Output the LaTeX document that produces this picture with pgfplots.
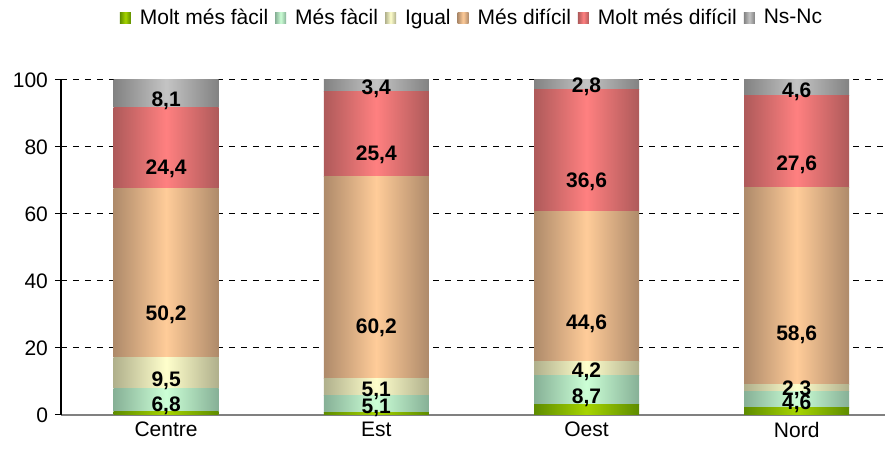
\documentclass[border=0pt]{standalone}
\usepackage{fontspec}
\setmainfont{Liberation Sans}
\usepackage{pgfplots}
\usepackage{pgfplotstable}
\pgfplotsset{compat=1.18}

% dark edge / light middle of each cylinder-like bar
\definecolor{mfD}{HTML}{5E8C00}\definecolor{mfL}{HTML}{A6D400}
\definecolor{fD}{HTML}{86B096}\definecolor{fL}{HTML}{CCFFD6}
\definecolor{iD}{HTML}{B0B08C}\definecolor{iL}{HTML}{FFFFCC}
\definecolor{dD}{HTML}{AE8A6A}\definecolor{dL}{HTML}{FFCC99}
\definecolor{mdD}{HTML}{AE5A5A}\definecolor{mdL}{HTML}{FF8080}
\definecolor{nD}{HTML}{828282}\definecolor{nL}{HTML}{C4C4C4}

% one table per district (one bar each, so each bar gets its own shading)
\pgfplotstableread{
x mfacil facil igual dificil mdificil nsnc
0 1.0 6.8 9.5 50.2 24.4 8.1
}\centre
\pgfplotstableread{
x mfacil facil igual dificil mdificil nsnc
1 0.8 5.1 5.1 60.2 25.4 3.4
}\est
\pgfplotstableread{
x mfacil facil igual dificil mdificil nsnc
2 3.1 8.7 4.2 44.6 36.6 2.8
}\oest
\pgfplotstableread{
x mfacil facil igual dificil mdificil nsnc
3 2.3 4.6 2.3 58.6 27.6 4.6
}\nord

\pgfplotsset{
  cyl/.style 2 args={draw=none, left color=#1, right color=#1, middle color=#2},
  lbl/.style={
    visualization depends on=rawy \as \rawy,
    nodes near coords={\pgfmathprintnumber{\rawy}},
    every node near coord/.append style={anchor=center, yshift={-0.41875*\rawy},
      font=\fontsize{10.5}{12}\selectfont\bfseries, text=black},
  },
  base/.style={
    at={(0,0)}, anchor=south west,
    scale only axis, width=412pt, height=167.5pt,
    ybar stacked, bar width=52.5pt,
    xmin=-0.5, xmax=3.42, ymin=0, ymax=100,
    /pgf/number format/assume math mode=true,
    /pgf/number format/.cd, use comma, fixed, fixed zerofill, precision=1,
    /pgfplots/.cd,
  },
}

\newcommand{\districte}[1]{%
\addplot[cyl={mfD}{mfL}] table[x=x, y=mfacil] {#1};
\addplot[cyl={fD}{fL}, lbl] table[x=x, y=facil] {#1};
\addplot[cyl={iD}{iL}, lbl] table[x=x, y=igual] {#1};
\addplot[cyl={dD}{dL}, lbl] table[x=x, y=dificil] {#1};
\addplot[cyl={mdD}{mdL}, lbl] table[x=x, y=mdificil] {#1};
\addplot[cyl={nD}{nL}, lbl] table[x=x, y=nsnc] {#1};
}

\begin{document}
\begin{tikzpicture}[x=1pt,y=1pt]
\path[use as bounding box] (-30.5,-22) rectangle (415,207.5);
\begin{axis}[
  base,
  xtick={0,1,2,3}, xticklabels={Centre,Est,Oest,Nord},
  x tick style={draw=none},
  ytick={0,20,...,100},
  ytick align=outside, major tick length=3pt,
  y tick style={black, line width=0.5pt},
  ymajorgrids, grid style={dashed, black, line width=0.5pt},
  axis x line*=bottom, axis y line*=left,
  x axis line style={-, gray, line width=1pt},
  y axis line style={-, black, line width=0.6pt},
  tick label style={font=\fontsize{10.5}{12}\selectfont},
  yticklabel={\pgfmathprintnumber[fixed, precision=0, fixed zerofill=false]{\tick}},
  legend style={at={(0.5,1)}, anchor=center, yshift=31pt, draw=none,
    font=\fontsize{10.5}{13}\selectfont,
    /tikz/every even column/.append style={column sep=1.5pt}},
  legend columns=-1,
  legend image code/.code={\path[#1, draw=none] (0pt,-2.8pt) rectangle (5.5pt,2.8pt);
    \path (0pt,0pt) -- (8pt,0pt);},
]
\districte{\centre}
\legend{Molt més fàcil, Més fàcil, Igual, Més difícil, Molt més difícil, Ns-Nc}
\end{axis}
\begin{axis}[base, hide axis]
\districte{\est}
\end{axis}
\begin{axis}[base, hide axis]
\districte{\oest}
\end{axis}
\begin{axis}[base, hide axis]
\districte{\nord}
\end{axis}
\end{tikzpicture}
\end{document}
